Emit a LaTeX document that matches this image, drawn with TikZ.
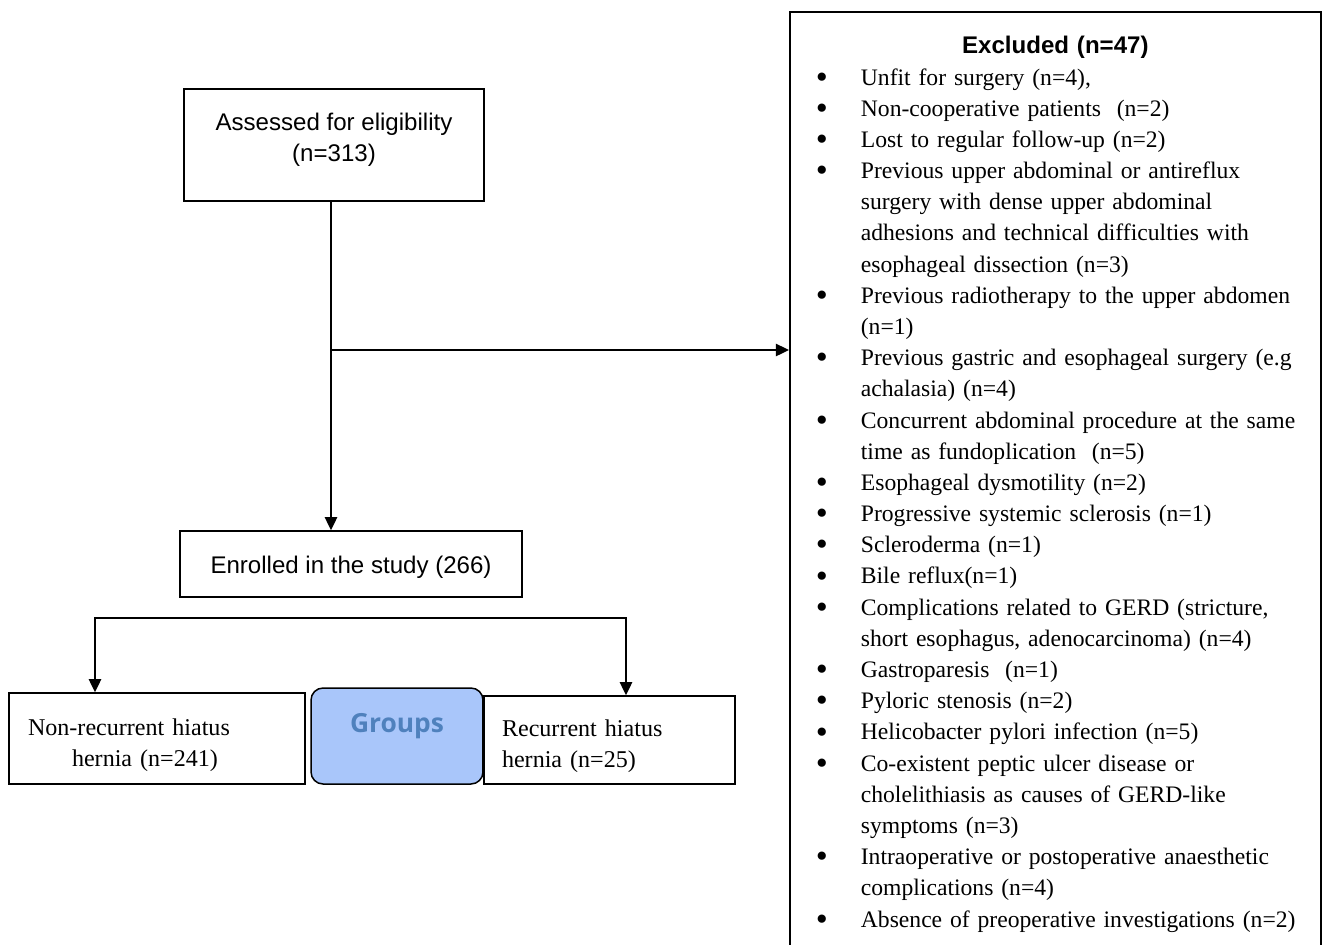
\documentclass[tikz,border=0pt]{standalone}
\usepackage{fontspec}
\setmainfont{Liberation Serif}
\setsansfont{Liberation Sans}
\newfontfamily\grpfont{Open Sans}
\usepackage{xcolor}
\definecolor{grpfill}{RGB}{169,198,250}
\definecolor{grptext}{RGB}{79,129,189}
\usetikzlibrary{arrows.meta, positioning}

\newcommand{\txtsize}{\fontsize{13.7pt}{17.68pt}\selectfont}
\newcommand{\exitem}[1]{\par\hangindent=1.42cm\hangafter=1\noindent
  \hspace*{0.52cm}\makebox[0.9cm][l]{\raisebox{-1.8pt}{\scalebox{1.45}{\textbullet}}}#1}

\tikzset{
  box/.style={draw, line width=0.85pt, inner sep=0pt},
  flow/.style={line width=1.1pt, -{Triangle[length=7.5pt, width=7pt]}},
  fork/.style={line width=1.1pt,
    {Triangle[length=7.5pt, width=7pt]}-{Triangle[length=7.5pt, width=7pt]}},
}

\begin{document}
\begin{tikzpicture}[x=0.02cm, y=-0.02cm, font=\txtsize]
  \useasboundingbox (0,0) rectangle (1322,944);

  % left column
  \node[box, font=\txtsize\sffamily, align=center, minimum width=6cm,
        minimum height=2.24cm, text depth=8.6pt] (assess) at (334,145)
        {Assessed for eligibility\\(n=313)};
  \node[box, font=\txtsize\sffamily, minimum width=6.84cm,
        minimum height=1.32cm, text height=13.4pt] (enrol) at (351,564)
        {Enrolled in the study (266)};

  % groups
  \node[box, align=left, text width=5.16cm, inner xsep=0.38cm,
        minimum height=1.82cm, text height=16.8pt] (nonrec) at (157,738.5)
        {Non-recurrent hiatus\\\hspace*{0.88cm}hernia (n=241)};
  \node[box, fill=grpfill, rounded corners=0.24cm, minimum width=3.44cm,
        minimum height=1.92cm, text=grptext, text depth=15pt,
        font=\grpfont\fontsize{15pt}{18pt}\selectfont\bfseries] (groups)
        at (397,736) {Groups};
  \node[box, align=left, text width=4.3cm, inner xsep=0.36cm,
        minimum height=1.76cm, text height=16.2pt] (rec) at (609.5,740)
        {Recurrent hiatus\\hernia (n=25)};

  % exclusions
  \node[draw, line width=1pt, anchor=north west, text width=10.62cm,
        inner xsep=0pt, inner ysep=0.49cm, align=left,
        font=\fontsize{13.45pt}{17.75pt}\selectfont] (excl) at (789,11)
        {{\centering\sffamily\bfseries\fontsize{13.7pt}{17.75pt}\selectfont
          Excluded (n=47)\par}
         \exitem{Unfit for surgery (n=4),}
         \exitem{Non-cooperative patients~ (n=2)}
         \exitem{Lost to regular follow-up (n=2)}
         \exitem{Previous upper abdominal or antireflux\newline
                 surgery with dense upper abdominal\newline
                 adhesions and technical difficulties with\newline
                 esophageal dissection (n=3)}
         \exitem{Previous radiotherapy to the upper abdomen\newline (n=1)}
         \exitem{Previous gastric and esophageal surgery (e.g\newline
                 achalasia) (n=4)}
         \exitem{Concurrent abdominal procedure at the same\newline
                 time as fundoplication~ (n=5)}
         \exitem{Esophageal dysmotility (n=2)}
         \exitem{Progressive systemic sclerosis (n=1)}
         \exitem{Scleroderma (n=1)}
         \exitem{Bile reflux(n=1)}
         \exitem{Complications related to GERD (stricture,\newline
                 short esophagus, adenocarcinoma) (n=4)}
         \exitem{Gastroparesis~ (n=1)}
         \exitem{Pyloric stenosis (n=2)}
         \exitem{Helicobacter pylori infection (n=5)}
         \exitem{Co-existent peptic ulcer disease or\newline
                 cholelithiasis as causes of GERD-like\newline
                 symptoms (n=3)}
         \exitem{Intraoperative or postoperative anaesthetic\newline
                 complications (n=4)}
         \exitem{Absence of preoperative investigations (n=2)%
                 \rule[-20pt]{0pt}{1pt}}};

  % connectors
  \coordinate (mid) at (331,350);
  \coordinate (forkL) at (95,618);
  \coordinate (forkR) at (626,618);
  \draw[flow] (assess.south -| mid) -- (enrol.north -| mid);
  \draw[flow] (mid) -- (excl.west |- mid);
  \draw[fork] (nonrec.north -| forkL) -- (forkL) -- (forkR)
              -- (rec.north -| forkR);
\end{tikzpicture}
\end{document}
